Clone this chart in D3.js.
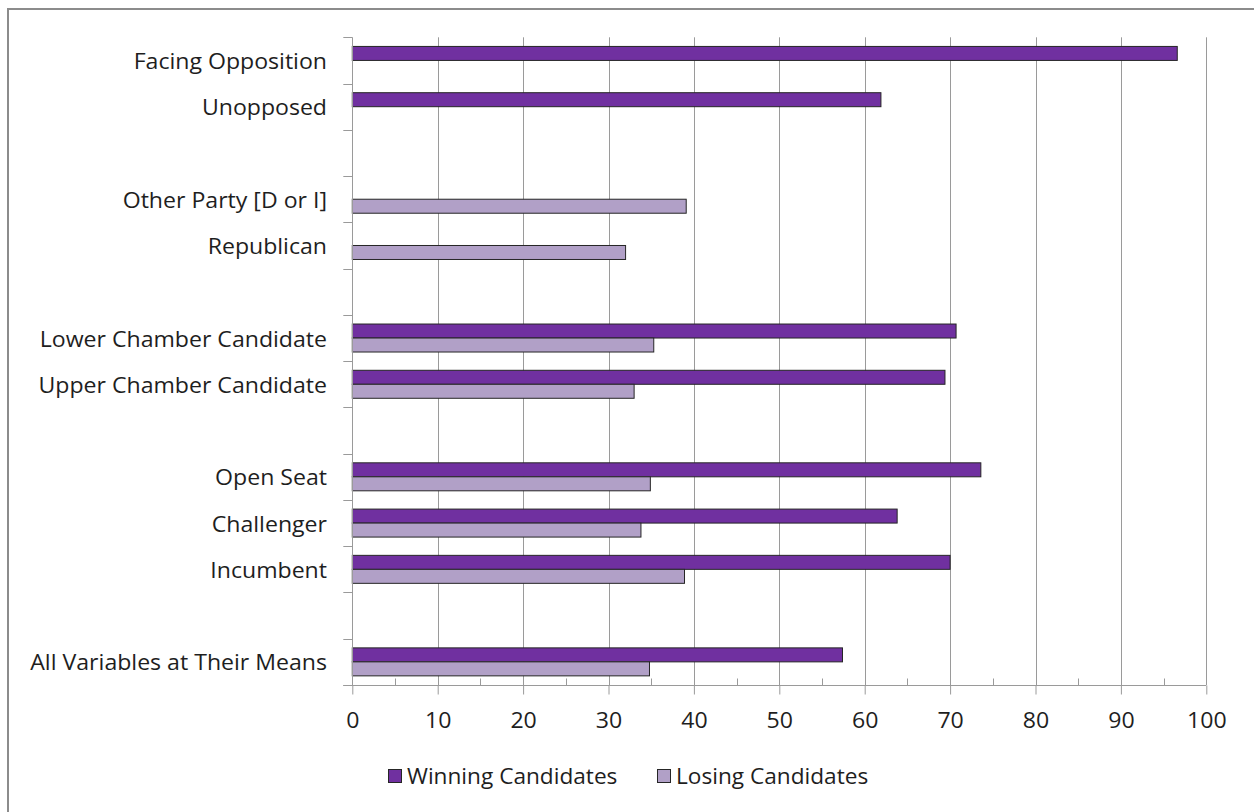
<!DOCTYPE html>
<html>
<head>
<meta charset="utf-8">
<script src="https://cdn.jsdelivr.net/npm/d3@7"></script>
<style>
  html, body { margin: 0; padding: 0; background: #fff; }
  svg { display: block; }
  text { font-family: "Open Sans", Lato, sans-serif; fill: #1e1e1e; }
</style>
</head>
<body>
<svg id="chart" width="1254" height="812"></svg>
<script>
// Category rows, top to bottom; empty strings are spacer rows between groups
const categories = [
  "Facing Opposition",
  "Unopposed",
  "",
  "Other Party [D or I]",
  "Republican",
  "",
  "Lower Chamber Candidate",
  "Upper Chamber Candidate",
  "",
  "Open Seat",
  "Challenger",
  "Incumbent",
  "",
  "All Variables at Their Means"
];
const winning = [96.6, 61.9, null, null, null, null, 70.7, 69.4, null, 73.6, 63.8, 70.0, null, 57.4];
const losing  = [null, null, null, 39.1, 32.0, null, 35.3, 33.0, null, 34.9, 33.8, 38.9, null, 34.8];
const seriesNames = ["Winning Candidates", "Losing Candidates"];
const xTicks = [0, 10, 20, 30, 40, 50, 60, 70, 80, 90, 100];
const xMinorTicks = [5, 15, 25, 35, 45, 55, 65, 75, 85, 95];

const colors = ["#7030a0", "#b1a0c7"];
const gridColor = "#9a9a9a";
const fontSize = 21;
const widen = 1.1; // slightly wider glyphs for the text

const svg = d3.select("#chart");

// outer chart frame
svg.append("rect")
  .attr("x", 8).attr("y", 9)
  .attr("width", 1300).attr("height", 900)
  .attr("fill", "none")
  .attr("stroke", "#8c8c8c")
  .attr("stroke-width", 2);

const plot = { left: 352.3, right: 1206.3, top: 37.3, bottom: 685 };

const x = d3.scaleLinear().domain([0, 100]).range([plot.left, plot.right]);

const rowIds = categories.map((_, i) => i);
const pad = 0.395;
const y0 = d3.scaleBand()
  .domain(rowIds)
  .range([plot.top, plot.bottom])
  .paddingInner(pad)
  .paddingOuter(pad / 2);

const y1 = d3.scaleBand()
  .domain([0, 1])
  .range([0, y0.bandwidth()]);

// vertical gridlines
svg.append("g")
  .selectAll("line")
  .data(xTicks.slice(1))
  .join("line")
  .attr("x1", d => Math.round(x(d)) + 0.5)
  .attr("x2", d => Math.round(x(d)) + 0.5)
  .attr("y1", plot.top)
  .attr("y2", plot.bottom)
  .attr("stroke", gridColor)
  .attr("stroke-width", 1);

// bars
const rows = rowIds.map(i => ({ i, vals: [winning[i], losing[i]] }));
const rowG = svg.append("g")
  .selectAll("g")
  .data(rows)
  .join("g")
  .attr("transform", d => `translate(0,${y0(d.i)})`);

rowG.selectAll("rect")
  .data(d => d.vals.map((v, s) => ({ v, s })).filter(e => e.v != null))
  .join("rect")
  .attr("x", x(0))
  .attr("y", d => y1(d.s))
  .attr("width", d => x(d.v) - x(0))
  .attr("height", y1.bandwidth())
  .attr("fill", d => colors[d.s])
  .attr("stroke", "#262626")
  .attr("stroke-width", 1);

// left (category) axis line and ticks at row boundaries
const yAxisG = svg.append("g");
yAxisG.append("line")
  .attr("x1", Math.round(plot.left) + 0.5).attr("x2", Math.round(plot.left) + 0.5)
  .attr("y1", plot.top).attr("y2", plot.bottom)
  .attr("stroke", gridColor);
const boundaries = rowIds.map(i => y0(i) - y0.step() * pad / 2).concat([plot.bottom]);
yAxisG.selectAll("line.tick")
  .data(boundaries)
  .join("line")
  .attr("class", "tick")
  .attr("x1", plot.left - 9).attr("x2", plot.left)
  .attr("y1", d => Math.round(d) + 0.5).attr("y2", d => Math.round(d) + 0.5)
  .attr("stroke", gridColor);

// category labels
svg.append("g")
  .selectAll("text")
  .data(rows.filter(d => categories[d.i] !== ""))
  .join("text")
  .attr("transform", d => `translate(327,${y0(d.i) + y0.bandwidth() / 2}) scale(${widen},1)`)
  .attr("text-anchor", "end")
  .attr("dominant-baseline", "central")
  .attr("font-size", fontSize)
  .text(d => categories[d.i]);

// bottom value axis
const xAxis = d3.axisBottom(x).tickValues(xTicks).tickSize(9).tickPadding(19).tickSizeOuter(0);
const xg = svg.append("g")
  .attr("transform", `translate(0,${Math.round(plot.bottom) + 0.5})`)
  .call(xAxis);
xg.select(".domain").attr("stroke", gridColor).attr("d", `M${plot.left - 9},0H${plot.right}`);
xg.selectAll(".tick line").attr("stroke", gridColor);
xg.selectAll(".tick text")
  .attr("font-size", fontSize)
  .attr("font-family", "'Open Sans', Lato, sans-serif")
  .attr("fill", "#1e1e1e")
  .attr("transform", `scale(${widen},1)`)
  .attr("x", 0);

// minor ticks pointing into the plot
xg.append("g")
  .selectAll("line")
  .data(xMinorTicks)
  .join("line")
  .attr("x1", d => Math.round(x(d)) + 0.5)
  .attr("x2", d => Math.round(x(d)) + 0.5)
  .attr("y1", 0).attr("y2", -7)
  .attr("stroke", gridColor);

// legend
const legendItems = [
  { name: seriesNames[0], color: colors[0], x: 388 },
  { name: seriesNames[1], color: colors[1], x: 657 }
];
const lg = svg.append("g")
  .selectAll("g")
  .data(legendItems)
  .join("g")
  .attr("transform", d => `translate(${d.x},776)`);
lg.append("rect")
  .attr("x", 0.5).attr("y", -6.5)
  .attr("width", 13).attr("height", 13)
  .attr("fill", d => d.color)
  .attr("stroke", "#262626");
lg.append("text")
  .attr("transform", `translate(19,0) scale(${widen * 0.98},1)`)
  .attr("dominant-baseline", "central")
  .attr("font-size", fontSize)
  .text(d => d.name);
</script>
</body>
</html>
